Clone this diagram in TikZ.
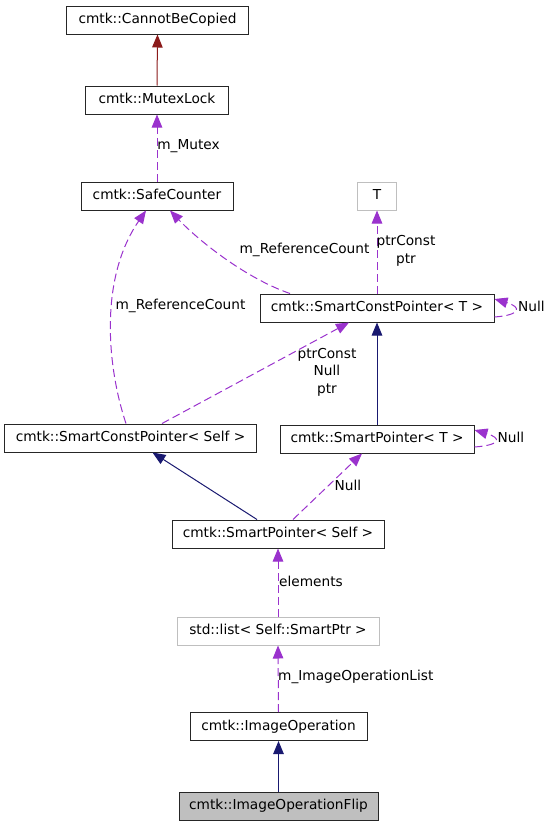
\documentclass[tikz,border=0pt]{standalone}
\usepackage{fontspec}
\setmainfont{DejaVu Sans}
\usetikzlibrary{arrows.meta,calc}
\definecolor{edgepurple}{HTML}{9A32CD}
\definecolor{inhnavy}{HTML}{191970}
\definecolor{firebrick}{HTML}{8B1A1A}
\definecolor{boxgray}{HTML}{BFBFBF}
\begin{document}
\begin{tikzpicture}[x=1pt,y=-1pt,
  cls/.style={draw=black!85, line width=1pt, rectangle, inner sep=0pt, minimum height=28pt,
    font=\fontsize{13.7}{17.5}\selectfont, text height=10pt, text depth=3pt},
  ext/.style={cls, draw=boxgray},
  lbl/.style={font=\fontsize{13.7}{17.5}\selectfont, inner sep=0pt, align=center},
  tip/.style={-{Triangle[length=13pt,width=10.5pt]}},
  usage/.style={draw=edgepurple, line width=1pt, dash pattern=on 8pt off 4pt, tip},
  inherit/.style={draw=inhnavy, line width=1pt, tip},
  privinh/.style={draw=firebrick, line width=1pt, tip}]
\useasboundingbox (0,0) rectangle (549,827);
% nodes
\node[cls, minimum width=181.6pt] (cbc) at (157.5,20) {cmtk::CannotBeCopied};
\node[cls, minimum width=143pt] (mutex) at (157,100) {cmtk::MutexLock};
\node[cls, minimum width=152pt] (safe) at (157,196) {cmtk::SafeCounter};
\node[ext, minimum width=39pt] (T) at (377,196) {T};
\node[cls, minimum width=234pt] (scpT) at (377,308) {cmtk::SmartConstPointer< T >};
\node[cls, minimum width=252.4pt] (scpS) at (130.5,438) {cmtk::SmartConstPointer< Self >};
\node[cls, minimum width=194pt] (spT) at (377,439) {cmtk::SmartPointer< T >};
\node[cls, minimum width=212pt] (spS) at (278,534) {cmtk::SmartPointer< Self >};
\node[ext, minimum width=202pt] (list) at (278,631) {std::list< Self::SmartPtr >};
\node[cls, minimum width=177pt] (imgop) at (278.5,726.5) {cmtk::ImageOperation};
\node[cls, minimum width=199pt, fill=boxgray] (flip) at (278.5,806) {cmtk::ImageOperationFlip};
% edges
\draw[privinh] (mutex.north) -- (cbc.south);
\draw[usage] (safe.north) -- (mutex.south);
\node[lbl] (lmutex) at (188.5,146) {m\_Mutex};
\draw[usage] ($(scpT.north)+(-87,0)$) .. controls (245,278) and (198,240) .. ($(safe.south)+(13,0)$);
\node[lbl] (lref1) at (304.5,250) {m\_ReferenceCount};
\draw[usage] ($(scpS.north)+(-4.5,0)$) .. controls (108,370) and (98,280) .. ($(safe.south)+(-11,0)$);
\node[lbl] (lref2) at (180.5,306) {m\_ReferenceCount};
\draw[usage] (scpT.north) -- (T.south);
\node[lbl] (lptr1) at (406,251) {ptrConst\\ptr};
\draw[usage] ($(scpT.east)+(0,9)$) .. controls +(27,-2) and +(27,8) .. ($(scpT.east)+(0,-9)$);
\node[lbl] (lnull1) at (531.5,306) {Null};
\draw[usage] ($(scpS.north)+(31.5,0)$) -- ($(scpT.south)+(-28,0)$);
\node[lbl] (lptr2) at (327,372) {ptrConst\\Null\\ptr};
\draw[inherit] (spT.north) -- (scpT.south);
\draw[usage] ($(spT.east)+(0,8)$) .. controls +(27,-2) and +(27,8) .. ($(spT.east)+(0,-9)$);
\node[lbl] (lnull2) at (511,437) {Null};
\draw[inherit] ($(spS.north)+(-21,0)$) -- ($(scpS.south)+(22,0)$);
\draw[usage] ($(spS.north)+(15,0)$) -- ($(spT.south)+(-15,0)$);
\node[lbl] (lnull3) at (348,485) {Null};
\draw[usage] (list.north) -- (spS.south);
\node[lbl, anchor=west] (lelem) at (279,581) {elements};
\draw[usage] (imgop.north) -- (list.south);
\node[lbl, anchor=west] (lopl) at (278,677) {m\_ImageOperationList};
\draw[inherit] (flip.north) -- (imgop.south);
\end{tikzpicture}
\end{document}
